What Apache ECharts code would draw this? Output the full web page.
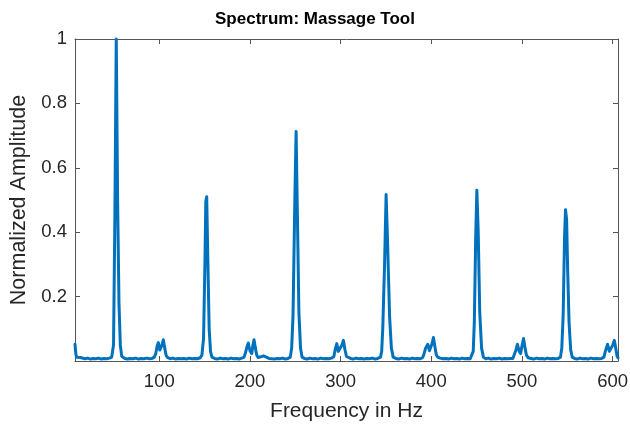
<!DOCTYPE html>
<html>
<head>
<meta charset="utf-8">
<script src="https://cdn.jsdelivr.net/npm/echarts@6/dist/echarts.min.js"></script>
<style>
  html, body { margin: 0; padding: 0; background: #fff; }
  #chart { width: 630px; height: 426px; }
</style>
</head>
<body>
<div id="chart"></div>
<script>
// Spectrum of the massage tool: frequency (Hz) and normalized amplitude
const freqHz = [
  7, 8, 9, 11, 13, 15, 18, 21, 24, 27, 30, 33, 36, 39, 42, 45, 47.5,
  49.5, 51, 52.5, 54, 55.5, 57, 58.5, 60,
  62, 65, 68, 71, 74, 77, 80, 83, 86, 89, 92, 94.5,
  96, 97.5, 98.9, 100.5, 101.9, 103, 104.4, 106, 107.5, 109,
  112, 115, 118, 121, 124, 127, 130, 133, 136, 139, 142, 145, 147,
  148.8, 150.3, 151.3, 152.3, 153.5, 155, 156.5, 158,
  161, 164, 167, 170, 173, 176, 179, 182, 185, 188, 191, 193.5,
  195, 196.8, 198.2, 200, 202, 203.3, 204.5, 206, 207.5, 209, 212, 215, 218, 221,
  224, 227, 230, 233, 236, 239, 242, 244.5,
  246, 247.5, 249.5, 250.9, 252.3, 254, 255.8, 257.5,
  260, 263, 266, 269, 272, 275, 278, 281, 284, 287, 290, 292.5,
  294, 295.8, 297.5, 299.5, 301.5, 303.1, 304.8, 306.5, 308,
  311, 314, 317, 320, 323, 326, 329, 332, 335, 338, 341, 344,
  345.3, 346.5, 348.5, 350.2, 352, 354, 356, 358,
  361, 364, 367, 370, 373, 376, 379, 382, 385, 388, 390.5,
  392, 393.8, 396.2, 398, 399.5, 401, 402.4, 404, 405.5, 407, 410,
  413, 416, 419, 422, 425, 428, 431, 434, 437, 440, 443, 445,
  446.3, 447.5, 449, 450.3, 451.8, 453.5, 455.5, 457.5,
  460, 463, 466, 469, 472, 475, 478, 481, 484, 487, 490, 492,
  493.5, 495.1, 497, 498.5, 500.3, 501.8, 503.5, 505, 507,
  510, 513, 516, 519, 522, 525, 528, 531, 534, 537, 540, 542.5,
  544, 545.5, 547, 548.1, 549.3, 550.5, 552, 553.8, 555.5,
  558, 561, 564, 567, 570, 573, 576, 579, 582, 585, 588, 590.5,
  592, 594.5, 596.5, 598, 600.3, 601.9, 603.5, 605, 606
];
const amplitude = [
  0.052, 0.02, 0.012, 0.010, 0.011, 0.008, 0.007, 0.009, 0.006, 0.008, 0.007, 0.009, 0.006, 0.008, 0.007, 0.009, 0.012,
  0.05, 0.45, 1.0, 0.5, 0.18, 0.05, 0.015, 0.01,
  0.008, 0.006, 0.008, 0.007, 0.009, 0.006, 0.008, 0.007, 0.009, 0.007, 0.008, 0.012,
  0.022, 0.045, 0.057, 0.034, 0.028, 0.05, 0.066, 0.04, 0.018, 0.011,
  0.007, 0.009, 0.006, 0.008, 0.007, 0.008, 0.006, 0.009, 0.007, 0.008, 0.007, 0.01, 0.018,
  0.07, 0.3, 0.495, 0.51, 0.32, 0.1, 0.03, 0.012,
  0.008, 0.006, 0.009, 0.007, 0.008, 0.006, 0.009, 0.007, 0.008, 0.006, 0.009, 0.012,
  0.025, 0.045, 0.056, 0.032, 0.023, 0.05, 0.066, 0.04, 0.018, 0.011, 0.013, 0.016, 0.012, 0.008,
  0.007, 0.006, 0.008, 0.007, 0.009, 0.006, 0.008, 0.012,
  0.04, 0.14, 0.5, 0.713, 0.46, 0.15, 0.04, 0.012,
  0.008, 0.006, 0.009, 0.007, 0.008, 0.006, 0.009, 0.007, 0.008, 0.007, 0.009, 0.013,
  0.035, 0.054, 0.03, 0.025, 0.05, 0.064, 0.035, 0.014, 0.01,
  0.008, 0.006, 0.009, 0.007, 0.008, 0.006, 0.008, 0.007, 0.009, 0.006, 0.008, 0.012,
  0.03, 0.1, 0.3, 0.517, 0.35, 0.14, 0.04, 0.012,
  0.008, 0.006, 0.009, 0.007, 0.008, 0.006, 0.009, 0.007, 0.008, 0.007, 0.011,
  0.022, 0.04, 0.052, 0.032, 0.028, 0.055, 0.073, 0.045, 0.02, 0.012, 0.009,
  0.007, 0.008, 0.006, 0.009, 0.007, 0.008, 0.006, 0.009, 0.007, 0.008, 0.007, 0.011,
  0.03, 0.12, 0.38, 0.53, 0.4, 0.15, 0.04, 0.012,
  0.007, 0.009, 0.006, 0.008, 0.007, 0.009, 0.006, 0.008, 0.007, 0.008, 0.008, 0.012,
  0.035, 0.052, 0.03, 0.023, 0.05, 0.07, 0.04, 0.018, 0.01,
  0.008, 0.006, 0.009, 0.007, 0.008, 0.006, 0.009, 0.007, 0.008, 0.007, 0.008, 0.012,
  0.04, 0.14, 0.38, 0.47, 0.44, 0.28, 0.12, 0.035, 0.012,
  0.008, 0.006, 0.009, 0.007, 0.008, 0.006, 0.009, 0.007, 0.008, 0.007, 0.008, 0.012,
  0.03, 0.052, 0.03, 0.025, 0.05, 0.064, 0.04, 0.015, 0.01
];
const xTicks = [100, 200, 300, 400, 500, 600];
const yTicks = [0.2, 0.4, 0.6, 0.8, 1];

const X_MIN = 7, X_MAX = 606;
const FONT = '"Liberation Sans", Arial, Helvetica, sans-serif';
const AXIS_COLOR = '#555555';
const TEXT_COLOR = '#262626';

const chart = echarts.init(document.getElementById('chart'), null, { renderer: 'canvas' });

function boxAxis(extra) {
  return Object.assign({
    type: 'value',
    axisLine: { show: true, onZero: false, lineStyle: { color: AXIS_COLOR, width: 1 } },
    splitLine: { show: false },
    axisLabel: { show: false },
    axisTick: { show: true, inside: true, length: 5, lineStyle: { color: AXIS_COLOR, width: 1 } }
  }, extra);
}

chart.setOption({
  animation: false,
  backgroundColor: '#fff',
  title: {
    text: 'Spectrum: Massage Tool',
    left: 'center',
    top: 6,
    textStyle: { fontFamily: FONT, fontSize: 17, fontWeight: 'bold', color: '#000' }
  },
  grid: { left: 75, right: 12, top: 39, bottom: 65, containLabel: false, outerBoundsMode: 'none' },
  xAxis: [
    boxAxis({
      position: 'bottom', min: X_MIN, max: X_MAX,
      name: 'Frequency in Hz', nameLocation: 'middle', nameGap: 40,
      nameTextStyle: { fontFamily: FONT, fontSize: 21, color: TEXT_COLOR },
      axisTick: { show: true, inside: true, length: 5, customValues: xTicks, lineStyle: { color: AXIS_COLOR } },
      axisLabel: { show: true, customValues: xTicks, margin: 11, fontFamily: FONT, fontSize: 18.5, color: TEXT_COLOR }
    }),
    boxAxis({
      position: 'top', min: X_MIN, max: X_MAX,
      axisTick: { show: true, inside: true, length: 5, customValues: xTicks, lineStyle: { color: AXIS_COLOR } }
    })
  ],
  yAxis: [
    boxAxis({
      position: 'left', min: 0, max: 1, interval: 0.2,
      name: 'Normalized Amplitude', nameLocation: 'middle', nameGap: 42,
      nameTextStyle: { fontFamily: FONT, fontSize: 21.5, color: TEXT_COLOR },
      axisTick: { show: true, inside: true, length: 5, customValues: yTicks, lineStyle: { color: AXIS_COLOR } },
      axisLabel: {
        show: true, customValues: yTicks, margin: 8, fontFamily: FONT, fontSize: 18.5, color: TEXT_COLOR,
        formatter: v => String(+Number(v).toFixed(1))
      }
    }),
    boxAxis({
      position: 'right', min: 0, max: 1, interval: 0.2,
      axisTick: { show: true, inside: true, length: 5, customValues: yTicks, lineStyle: { color: AXIS_COLOR } }
    })
  ],
  series: [{
    type: 'line',
    xAxisIndex: 0,
    yAxisIndex: 0,
    data: freqHz.map((f, i) => [f, amplitude[i]]),
    showSymbol: false,
    clip: false,
    lineStyle: { color: '#0072BD', width: 3, join: 'round', cap: 'round' }
  }]
});
</script>
</body>
</html>
